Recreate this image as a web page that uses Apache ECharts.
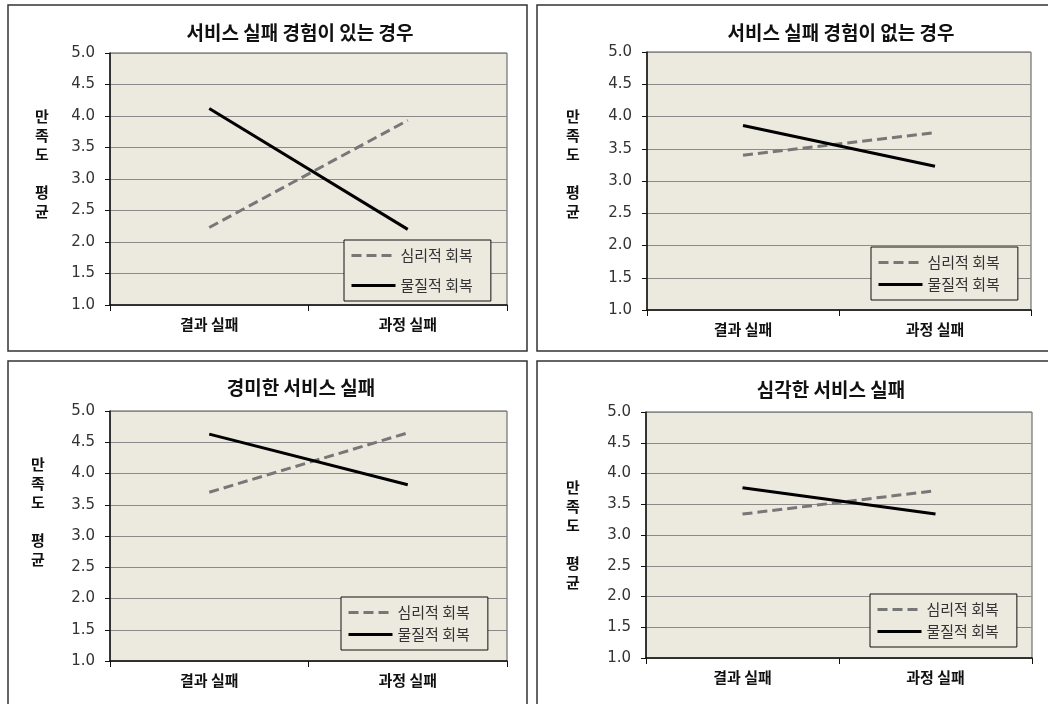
<!DOCTYPE html>
<html lang="ko">
<head>
    <meta charset="UTF-8">
    <title>만족도 평균</title>
    <script src="https://cdn.jsdelivr.net/npm/echarts@6/dist/echarts.min.js"></script>
    <style>
        html, body { margin: 0; padding: 0; background: #fff; }
    </style>
</head>
<body>
<div id="myChart" style="width: 1048px;height: 704px;"></div>

<script>
    var categories = ['결과 실패', '과정 실패'];
    var seriesNames = ['심리적 회복', '물질적 회복'];
    var yTicks = [1.0, 1.5, 2.0, 2.5, 3.0, 3.5, 4.0, 4.5, 5.0];
    var titles = ['서비스 실패 경험이 있는 경우', '서비스 실패 경험이 없는 경우', '경미한 서비스 실패', '심각한 서비스 실패'];

    // 심리적 회복 (점선) / 물질적 회복 (실선)
    var psychHave = [2.23, 3.93];
    var materHave = [4.12, 2.20];
    var psychNone = [3.40, 3.75];
    var materNone = [3.86, 3.23];
    var psychMild = [3.70, 4.65];
    var materMild = [4.63, 3.82];
    var psychSevere = [3.34, 3.72];
    var materSevere = [3.77, 3.34];

    var psychData = [psychHave, psychNone, psychMild, psychSevere];
    var materData = [materHave, materNone, materMild, materSevere];

    // 패널 배치
    var panels = [
        {box: [8, 5, 519, 346], grid: [110, 53, 397, 252], title: [295, 18], yname: [42, 107], legend: [344, 240, 15]},
        {box: [537, 5, 520, 346], grid: [647, 52, 384, 258], title: [836, 18], yname: [573, 107], legend: [871, 247, 7]},
        {box: [8, 361, 519, 360], grid: [110, 411, 397, 250], title: [296, 373], yname: [38, 455], legend: [341, 597, 7]},
        {box: [537, 361, 520, 360], grid: [646, 412, 386, 246], title: [826, 375], yname: [573, 478], legend: [870, 594, 7]}
    ];

    var myChart = echarts.init(document.getElementById('myChart'));

    var cjk = '"Noto Sans CJK KR", "Noto Sans", sans-serif';
    var option = {
        animation: false,
        backgroundColor: '#fff',
        title: [],
        grid: [],
        xAxis: [],
        yAxis: [],
        legend: [],
        series: [],
        graphic: []
    };

    panels.forEach(function (p, i) {
        option.graphic.push({
            type: 'rect',
            shape: {x: p.box[0], y: p.box[1], width: p.box[2], height: p.box[3]},
            style: {fill: null, stroke: '#333', lineWidth: 1.5},
            z: -1
        });
        option.graphic.push({
            type: 'text',
            x: p.yname[0],
            y: p.yname[1],
            style: {
                text: '만\n족\n도\n\n평\n균',
                font: 'bold 15px ' + cjk,
                lineHeight: 19,
                fill: '#111',
                textAlign: 'center',
                textVerticalAlign: 'top'
            }
        });
        option.title.push({
            text: titles[i],
            left: p.title[0],
            top: p.title[1],
            textAlign: 'center',
            textStyle: {fontFamily: cjk, fontSize: 19, fontWeight: 'bold', color: '#111'}
        });
        option.grid.push({
            left: p.grid[0], top: p.grid[1], width: p.grid[2], height: p.grid[3],
            show: true,
            backgroundColor: '#ECE9DF',
            borderColor: '#555',
            borderWidth: 1
        });
        option.xAxis.push({
            type: 'category',
            gridIndex: i,
            data: categories,
            boundaryGap: true,
            axisLine: {lineStyle: {color: '#111', width: 1.5}},
            axisTick: {show: true, alignWithLabel: false, length: 6, lineStyle: {color: '#111'}},
            axisLabel: {margin: 12, fontFamily: cjk, fontSize: 15, fontWeight: 'bold', color: '#111'}
        });
        option.yAxis.push({
            type: 'value',
            gridIndex: i,
            min: yTicks[0],
            max: yTicks[yTicks.length - 1],
            interval: 0.5,
            axisLine: {show: true, lineStyle: {color: '#111', width: 1.5}},
            axisTick: {show: true, length: 5, lineStyle: {color: '#111'}},
            axisLabel: {
                margin: 15,
                fontFamily: '"DejaVu Sans", sans-serif',
                fontSize: 15,
                color: '#333',
                formatter: function (v) { return v.toFixed(1); }
            },
            splitLine: {show: true, lineStyle: {color: '#8a8a8a', width: 1}}
        });
        option.legend.push({
            orient: 'vertical',
            left: p.legend[0],
            top: p.legend[1],
            itemGap: p.legend[2],
            itemWidth: 44,
            itemHeight: 14,
            padding: [8, 18, 8, 6],
            backgroundColor: '#ECE9DF',
            borderColor: '#111',
            borderWidth: 1,
            borderRadius: 0,
            itemStyle: {opacity: 0},
            lineStyle: {width: 3},
            data: seriesNames,
            textStyle: {fontFamily: cjk, fontSize: 15, color: '#333'}
        });
        option.series.push({
            name: seriesNames[0],
            type: 'line',
            xAxisIndex: i,
            yAxisIndex: i,
            data: psychData[i],
            symbol: 'none',
            lineStyle: {color: '#777', width: 3, type: [10, 5]},
            itemStyle: {color: '#777'}
        });
        option.series.push({
            name: seriesNames[1],
            type: 'line',
            xAxisIndex: i,
            yAxisIndex: i,
            data: materData[i],
            symbol: 'none',
            lineStyle: {color: '#000', width: 3},
            itemStyle: {color: '#000'}
        });
    });

    myChart.setOption(option);
</script>
</body>
</html>
